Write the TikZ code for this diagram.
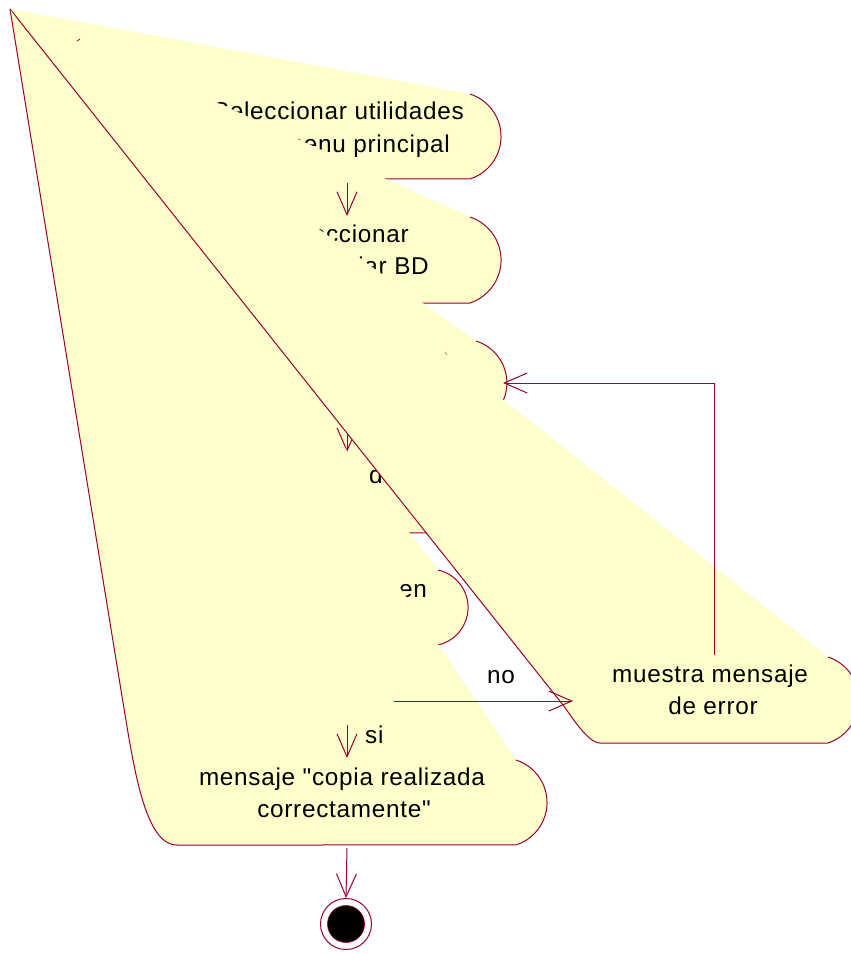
\documentclass[tikz,border=0pt]{standalone}
\usepackage{fontspec}
\setmainfont{Liberation Sans}[LetterSpace=3, Ligatures=TeXOff]
\usetikzlibrary{arrows.meta}
\definecolor{rosered}{RGB}{153,0,51}
\definecolor{roseyellow}{RGB}{255,255,204}
\begin{document}
\begin{tikzpicture}[x=1pt,y=-1pt,
  every node/.style={font=\fontsize{24.3}{32}\selectfont, inner sep=0pt, text=black},
  rosefill/.style={fill=roseyellow},
  roseline/.style={draw=rosered, line width=1pt},
  vhead/.style={roseline, -{Straight Barb[length=23pt,width=20pt]}}]
\useasboundingbox (0,0) rectangle (851,954);
\clip (0,0) rectangle (851,954);
\coordinate (A) at (10,9);

% activity 1
\fill[rosefill] (A) -- (470,94) arc[start angle=-72.3, end angle=72.3, radius=44.6] -- (220,179) -- cycle;
\draw[roseline] (470,94) arc[start angle=-72.3, end angle=72.3, radius=44.6] -- (220,179);
\node[anchor=base east] (t1a) at (464,119) {Seleccionar utilidades};
\node[anchor=base east] (t1b) at (450,152) {del menu principal};

% activity 2
\fill[rosefill] (A) -- (470,217) arc[start angle=-71.7, end angle=71.7, radius=45.3] -- (230,303) -- cycle;
\draw[roseline] (470,217) arc[start angle=-71.7, end angle=71.7, radius=45.3] -- (230,303);
\node[anchor=base east] (t2a) at (409,242) {Seleccionar};
\node[anchor=base east] (t2b) at (429,274) {copiar BD};
\coordinate (a12s) at (347,183);
\coordinate (a12e) at (347,216);
\draw[vhead] (a12s) -- (a12e);

% activity 3
\fill[rosefill] (A) -- (476,341) arc[start angle=-72.7, end angle=72.7, radius=44] -- (230,425) -- cycle;
\draw[roseline] (476,341) arc[start angle=-72.7, end angle=72.7, radius=44] -- (230,425);

% activity 4
\fill[rosefill] (A) -- (470,450) arc[start angle=-73.4, end angle=73.4, radius=43.3] -- (230,533) -- cycle;
\draw[roseline] (470,450) arc[start angle=-73.4, end angle=73.4, radius=43.3] -- (230,533);
\node[anchor=base west] (t4) at (369,483) {da};
\coordinate (a34s) at (347,405);
\coordinate (a34e) at (347,452);
\draw[vhead] (a34s) -- (a34e);

% activity 5
\fill[rosefill] (A) -- (438,570) arc[start angle=-77.5, end angle=77.5, radius=38.4] -- (230,645) -- cycle;
\draw[roseline] (438,570) arc[start angle=-77.5, end angle=77.5, radius=38.4];
\node[anchor=base east] (t5) at (427,597) {en};

% error activity
\fill[rosefill] (A) -- (828,657) arc[start angle=-71.7, end angle=71.7, radius=45.3] -- (600,743)
   .. controls (588,743) and (572,717) .. (563,705) -- cycle;
\draw[roseline] (828,657) arc[start angle=-71.7, end angle=71.7, radius=45.3] -- (600,743)
   .. controls (588,743) and (572,717) .. (563,705) -- (A);
\node[anchor=base] (te1) at (710,682) {muestra mensaje};
\node[anchor=base] (te2) at (713,714) {de error};

% activity 6
\fill[rosefill] (A) -- (516,760) arc[start angle=-72.3, end angle=72.3, radius=44.6] -- (177,845)
   .. controls (145,845) and (134,769) .. (122.6,700) -- cycle;
\draw[roseline] (516,760) arc[start angle=-72.3, end angle=72.3, radius=44.6] -- (177,845)
   .. controls (145,845) and (134,769) .. (122.6,700) -- (A);
\node[anchor=base] (t6a) at (342,785) {mensaje "copia realizada};
\node[anchor=base] (t6b) at (344,817) {correctamente"};

% transitions
\coordinate (nos) at (394,701);
\coordinate (noe) at (573,701);
\draw[vhead] (nos) -- (noe);
\node[anchor=base] (lno) at (501,683) {no};
\coordinate (sis) at (347,725);
\coordinate (sie) at (347,758);
\draw[vhead] (sis) -- (sie);
\node[anchor=base west] (lsi) at (365,743) {si};
\coordinate (rets) at (714,655);
\coordinate (retc) at (714,383);
\coordinate (rete) at (503,383);
\draw[vhead] (rets) -- (retc) -- (rete);

% final state
\node[circle, draw=rosered, line width=1pt, fill=white, minimum size=51pt] (endo) at (346,924) {};
\node[circle, draw=rosered, line width=0.6pt, fill=black, minimum size=37pt] (endi) at (346,924) {};
\coordinate (fins) at (347,848);
\draw[vhead] (fins) -- (endo.north);

% tiny fragments
\draw[rosered, line width=0.8pt] (77,41) -- (80,39);
\draw[gray, line width=0.6pt] (445,352) -- (447,355);
\end{tikzpicture}
\end{document}
